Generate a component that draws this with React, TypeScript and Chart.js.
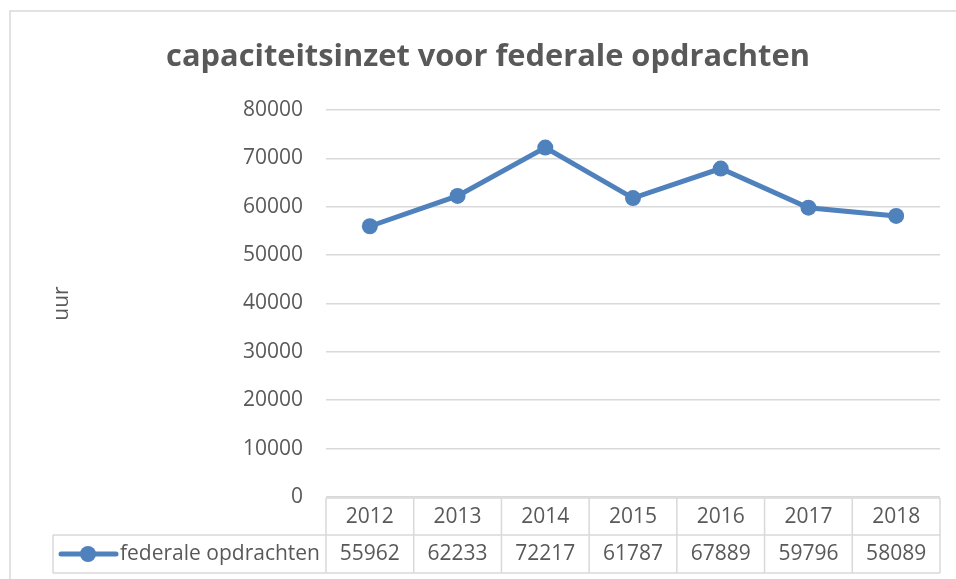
import React, { useEffect, useRef } from "react";
import { Chart, registerables } from "chart.js";

Chart.register(...registerables);

const years: string[] = ["2012", "2013", "2014", "2015", "2016", "2017", "2018"];
const federaleOpdrachten: number[] = [55962, 62233, 72217, 61787, 67889, 59796, 58089];
const seriesName = "federale opdrachten";
const chartTitle = "capaciteitsinzet voor federale opdrachten";
const yAxisTitle = "uur";
const yMin = 0;
const yMax = 80000;
const yStep = 10000;

const FONT = "'Open Sans', sans-serif";
const TEXT = "#595959";
const GRID = "#d9d9d9";
const LINE = "#4f81bd";

const tablePlugin = {
  id: "dataTable",
  beforeDraw(chart: any) {
    const ctx = chart.ctx;
    ctx.save();
    ctx.strokeStyle = GRID;
    ctx.lineWidth = 1.5;
    ctx.strokeRect(10, 11, 960, 600);
    ctx.restore();
  },
  afterDraw(chart: any) {
    const ctx = chart.ctx;
    const area = chart.chartArea;
    const xs = chart.scales.x;
    const n = years.length;
    const colW = (area.right - area.left) / n;
    const top = area.bottom + 1;
    const mid = top + 37;
    const bot = mid + 38;
    const legendLeft = 53;
    ctx.save();
    ctx.strokeStyle = GRID;
    ctx.lineWidth = 1.5;
    ctx.beginPath();
    ctx.moveTo(area.left, top);
    ctx.lineTo(area.right, top);
    ctx.moveTo(legendLeft, mid);
    ctx.lineTo(area.right, mid);
    ctx.moveTo(legendLeft, bot);
    ctx.lineTo(area.right, bot);
    for (let i = 0; i <= n; i++) {
      const x = area.left + i * colW;
      ctx.moveTo(x, top);
      ctx.lineTo(x, bot);
    }
    ctx.moveTo(legendLeft, mid);
    ctx.lineTo(legendLeft, bot);
    ctx.stroke();

    ctx.fillStyle = TEXT;
    ctx.font = `21px ${FONT}`;
    ctx.textAlign = "center";
    ctx.textBaseline = "middle";
    for (let i = 0; i < n; i++) {
      const cx = xs.getPixelForValue(i);
      ctx.fillText(years[i], cx, (top + mid) / 2 + 1);
      ctx.fillText(String(federaleOpdrachten[i]), cx, (mid + bot) / 2);
    }
    const ly = (mid + bot) / 2;
    ctx.strokeStyle = LINE;
    ctx.lineWidth = 5;
    ctx.lineCap = "round";
    ctx.beginPath();
    ctx.moveTo(61, ly);
    ctx.lineTo(116, ly);
    ctx.stroke();
    ctx.fillStyle = LINE;
    ctx.beginPath();
    ctx.arc(88, ly, 8, 0, Math.PI * 2);
    ctx.fill();
    ctx.fillStyle = TEXT;
    ctx.textAlign = "left";
    ctx.fillText(seriesName, 120, ly);
    ctx.restore();
  },
};

export default function App() {
  const ref = useRef<HTMLCanvasElement | null>(null);
  useEffect(() => {
    document.body.style.margin = "0";
    const canvas = ref.current;
    if (!canvas) return;
    const chart = new Chart(canvas, {
      type: "line",
      data: {
        labels: years,
        datasets: [
          {
            label: seriesName,
            data: federaleOpdrachten,
            borderColor: LINE,
            backgroundColor: LINE,
            borderWidth: 5,
            pointRadius: 8,
            pointHoverRadius: 8,
            pointBackgroundColor: LINE,
            pointBorderColor: LINE,
            pointBorderWidth: 0,
            tension: 0,
          },
        ],
      },
      options: {
        responsive: false,
        animation: false,
        devicePixelRatio: 1,
        layout: { padding: { left: 36, right: 16, top: 0, bottom: 82 } },
        plugins: {
          legend: { display: false },
          tooltip: { enabled: false },
          title: {
            display: true,
            text: chartTitle,
            color: TEXT,
            font: { family: FONT, size: 30.8, weight: "bold", lineHeight: 1.2 },
            padding: { top: 39, bottom: 34 },
          },
        },
        scales: {
          x: {
            type: "category",
            display: false,
            offset: true,
          },
          y: {
            min: yMin,
            max: yMax,
            border: { display: false },
            grid: { color: GRID, lineWidth: 1.5, drawTicks: false },
            ticks: {
              stepSize: yStep,
              padding: 23,
              color: TEXT,
              font: { family: FONT, size: 21 },
              callback: (v: any) => String(v),
            },
            title: {
              display: true,
              text: yAxisTitle,
              color: TEXT,
              font: { family: FONT, size: 21, lineHeight: 1.2 },
              padding: { top: 13, bottom: 0 },
            },
            afterFit(scale: any) {
              scale.width = 290;
            },
          },
        },
      },
      plugins: [tablePlugin],
    });
    return () => chart.destroy();
  }, []);
  return (
    <div style={{ position: "absolute", left: 0, top: 0, width: 956, height: 579 }}>
      <canvas ref={ref} width={956} height={579} />
    </div>
  );
}
